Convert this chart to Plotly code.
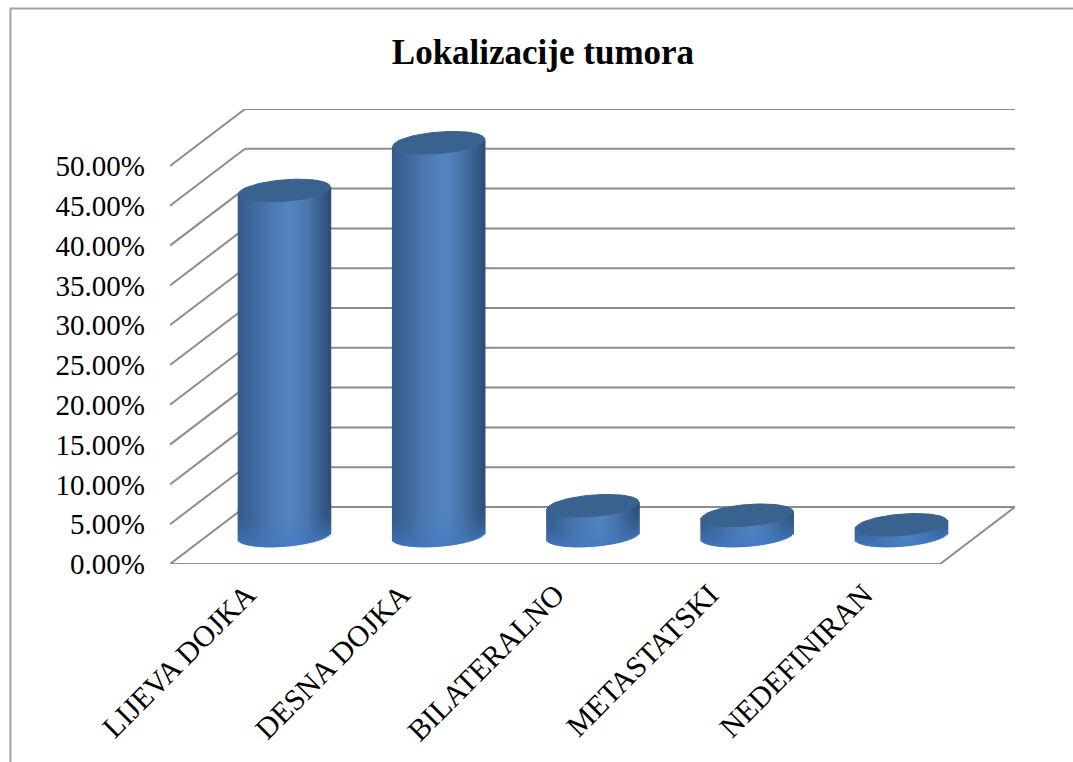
import numpy as np
import plotly.graph_objects as go

categories = ["LIJEVA DOJKA", "DESNA DOJKA", "BILATERALNO", "METASTATSKI", "NEDEFINIRAN"]
values = [0.434, 0.494, 0.038, 0.026, 0.014]
y_ticks = [0.0, 0.05, 0.10, 0.15, 0.20, 0.25, 0.30, 0.35, 0.40, 0.45, 0.50]
chart_title = "Lokalizacije tumora"

DEPTH_X = 0.486
DEPTH_Y = 0.0716
FLOOR_Y = 0.0352
RX = 0.298
RY = 0.0135
TILT = 0.0045
X_RANGE = [-0.742, 4.736]
Y_RANGE = [0, 0.5716]
N_STRIPS = 46
N_RIM = 20
RIM_STEP = 0.002
FONT = "Liberation Serif"
GRID = "#8c8c8c"
FRAME = "#a3a3a3"
STRIP_W = 2 * RX / N_STRIPS


def mix(a, b, t):
    return [a[i] + (b[i] - a[i]) * t for i in range(3)]


def rgb(c):
    return "rgb(%d,%d,%d)" % tuple(int(round(v)) for v in c)


def strip_color(u):
    stops_u = [-1.0, -0.7, -0.3, 0.15, 0.5, 0.8, 1.0]
    stops = [(52, 90, 138), (62, 102, 154), (74, 120, 176), (83, 133, 194),
             (74, 118, 174), (56, 94, 142), (46, 78, 120)]
    return [float(np.interp(u, stops_u, [s[i] for s in stops])) for i in range(3)]


xs, bases, heights, colors = [], [], [], []
us = (np.arange(N_STRIPS) + 0.5) / N_STRIPS * 2 - 1
for i, v in enumerate(values):
    for u in us:
        bottom = FLOOR_Y - RY * np.sqrt(1 - u * u) + TILT * u
        top = FLOOR_Y + v + TILT * u
        col = strip_color(u)
        cur = bottom
        for j in range(N_RIM):
            nxt = min(cur + RIM_STEP, top)
            if nxt > cur:
                xs.append(i + u * RX)
                bases.append(cur)
                heights.append(nxt - cur + 0.0008)
                colors.append(rgb(mix(col, (64, 122, 194), 0.7 * (1 - j / N_RIM) ** 2)))
            cur = nxt
        if top > cur:
            xs.append(i + u * RX)
            bases.append(cur)
            heights.append(top - cur)
            colors.append(rgb(col))

fig = go.Figure()
fig.add_trace(go.Bar(
    x=xs, y=heights, base=bases, width=STRIP_W * 1.8,
    marker=dict(color=colors, line=dict(width=0)),
    hoverinfo="skip", showlegend=False,
))

theta = np.linspace(0, 2 * np.pi, 90)
for i, v in enumerate(values):
    fig.add_trace(go.Scatter(
        x=i + RX * np.cos(theta),
        y=FLOOR_Y + v + RY * np.sin(theta) + TILT * np.cos(theta),
        mode="lines", fill="toself", fillcolor="#39628f",
        line=dict(color="#39628f", width=1),
        hoverinfo="skip", showlegend=False,
    ))

shapes = []
back_l = X_RANGE[0] + DEPTH_X
for t in y_ticks:
    shapes.append(dict(type="line", layer="below", xref="x", yref="y",
                       x0=X_RANGE[0], y0=t, x1=back_l, y1=t + DEPTH_Y,
                       line=dict(color=GRID, width=2)))
    shapes.append(dict(type="line", layer="below", xref="x", yref="y",
                       x0=back_l, y0=t + DEPTH_Y, x1=X_RANGE[1], y1=t + DEPTH_Y,
                       line=dict(color=GRID, width=2)))
shapes.append(dict(type="line", layer="below", xref="x", yref="y",
                   x0=X_RANGE[0], y0=0, x1=X_RANGE[1] - DEPTH_X, y1=0,
                   line=dict(color=GRID, width=2)))
shapes.append(dict(type="line", layer="below", xref="x", yref="y",
                   x0=X_RANGE[1] - DEPTH_X, y0=0, x1=X_RANGE[1], y1=DEPTH_Y,
                   line=dict(color=GRID, width=2)))
# outer chart frame (cut off by the right and bottom of the picture)
shapes.append(dict(type="rect", layer="below", xref="paper", yref="paper",
                   x0=-0.1888, y0=-0.6, x1=1.2, y1=1.2209,
                   line=dict(color=FRAME, width=2), fillcolor="rgba(0,0,0,0)"))

fig.update_layout(
    width=1073, height=762, autosize=False,
    margin=dict(l=170, r=58, t=109, b=198, pad=0),
    paper_bgcolor="white", plot_bgcolor="rgba(0,0,0,0)",
    barmode="overlay", shapes=shapes, showlegend=False,
    title=dict(text="<b>%s</b>" % chart_title, x=0.506, xanchor="center",
               y=0.932, yanchor="middle", font=dict(family=FONT, size=35, color="black")),
    font=dict(family=FONT, color="black"),
    xaxis=dict(range=X_RANGE, showgrid=False, zeroline=False, showline=False,
               tickmode="array", tickvals=[i - DEPTH_X / 2 for i in range(len(categories))],
               ticktext=categories, tickangle=-45, ticks="",
               ticklabelstandoff=6, tickfont=dict(family=FONT, size=30, color="black")),
    yaxis=dict(range=Y_RANGE, showgrid=False, zeroline=False, showline=False,
               tickmode="array", tickvals=y_ticks, tickformat=".2%", ticks="",
               ticklabelstandoff=24, tickfont=dict(family=FONT, size=29, color="black")),
)

fig.write_html("out.html", config=dict(displayModeBar=False),
               post_script="document.body.style.margin='0';document.body.style.overflow='hidden';")
